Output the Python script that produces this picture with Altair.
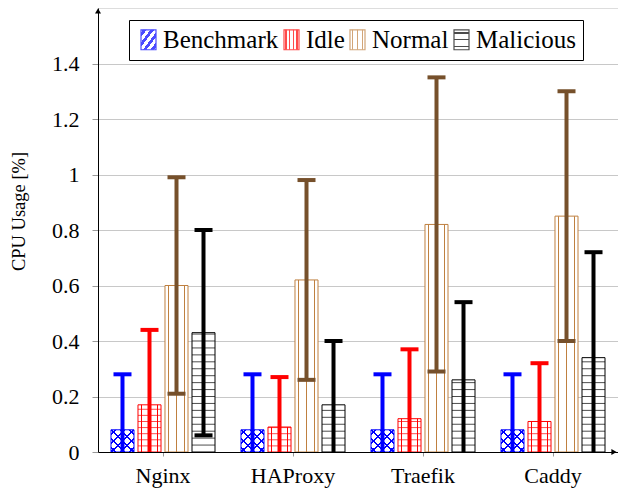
import altair as alt
import pandas as pd

# ---------------- data ----------------
categories = ["Nginx", "HAProxy", "Traefik", "Caddy"]
series = ["Benchmark", "Idle", "Normal", "Malicious"]

benchmark_mean = [0.08, 0.08, 0.08, 0.08]
benchmark_err = [0.20, 0.20, 0.20, 0.20]
idle_mean = [0.17, 0.09, 0.12, 0.11]
idle_err = [0.27, 0.18, 0.25, 0.21]
normal_mean = [0.60, 0.62, 0.82, 0.85]
normal_err = [0.39, 0.36, 0.53, 0.45]
malicious_mean = [0.43, 0.17, 0.26, 0.34]
malicious_err = [0.37, 0.23, 0.28, 0.38]

y_ticks = [0, 0.2, 0.4, 0.6, 0.8, 1, 1.2, 1.4]

rows = []
for s, means, errs in zip(
    series,
    [benchmark_mean, idle_mean, normal_mean, malicious_mean],
    [benchmark_err, idle_err, normal_err, malicious_err],
):
    for c, m, e in zip(categories, means, errs):
        rows.append({"category": c, "series": s, "mean": m, "err": e})
df = pd.DataFrame(rows)

# ---------------- styles ----------------
FONT = "Liberation Serif"
BLUE, RED, BROWN, BLACK = "#0000ff", "#ff0000", "#bf8040", "#000000"
ERR_BROWN = "#76502b"
stroke_colors = [BLUE, RED, BROWN, BLACK]
err_colors = [BLUE, RED, ERR_BROWN, BLACK]


def stop_list(n, frac, color, bg):
    stops = [(0, bg)]
    for i in range(n):
        c = (i + 0.5) / n
        a, b = c - frac / 2, c + frac / 2
        stops += [(a, bg), (a, color), (b, color), (b, bg)]
    stops.append((1, bg))
    return stops


def stripes(n, frac, color, bg, x1, y1, x2, y2):
    stops = [alt.GradientStop(offset=o, color=c) for o, c in stop_list(n, frac, color, bg)]
    return alt.LinearGradient(gradient="linear", stops=stops, x1=x1, y1=y1, x2=x2, y2=y2)


def stripes_expr(n, frac, color, bg, x1, y1, x2, y2):
    st = ",".join("{offset:%g,color:'%s'}" % (o, c) for o, c in stop_list(n, frac, color, bg))
    return {"expr": "{gradient:'linear',x1:%g,y1:%g,x2:%g,y2:%g,stops:[%s]}" % (x1, y1, x2, y2, st)}


TRANSP = "rgba(255,255,255,0)"

x_enc = alt.X(
    "category:N",
    sort=categories,
    scale=alt.Scale(domain=categories, paddingInner=0, paddingOuter=0),
    axis=alt.Axis(
        title=None, labelAngle=0, grid=False, domainColor="black", tickColor="#999999",
        tickSize=4, labelFont=FONT, labelFontSize=22, labelColor="black", labelPadding=9,
    ),
)
xo_enc = alt.XOffset(
    "series:N", sort=series,
    scale=alt.Scale(domain=series, paddingInner=0.148, paddingOuter=0.481),
)
y_axis = alt.Axis(
    values=y_ticks, format="~g", title="CPU Usage [%]", grid=True, gridColor="#c8c8c8",
    domainColor="black", tickColor="#999999", tickSize=6, labelPadding=13,
    labelFont=FONT, labelFontSize=22, labelColor="black",
    titleFont=FONT, titleFontSize=18.5, titleFontWeight="normal", titleColor="black",
    titleX=-80, titleY=203, titleBaseline="middle",
)
y_scale = alt.Scale(domain=[0, 1.6], nice=False, zero=True)

base = alt.Chart(df)


def bar_layer(name, fill, stroke):
    return base.transform_filter(alt.datum.series == name).mark_bar(
        fill=fill, stroke=stroke, strokeWidth=1, clip=True
    ).encode(x=x_enc, xOffset=xo_enc, y=alt.Y("mean:Q", scale=y_scale, axis=y_axis))


bench_bar = bar_layer("Benchmark", stripes(5, 0.05, BLUE, "white", 0, 0, 1, 1), BLUE)
bench_over = base.transform_filter(alt.datum.series == "Benchmark").mark_bar(
    fill=stripes(5, 0.05, BLUE, TRANSP, 1, 0, 0, 1), strokeWidth=0
).encode(x=x_enc, xOffset=xo_enc, y=alt.Y("mean:Q", scale=y_scale, axis=y_axis))
idle_bar = bar_layer("Idle", stripes(3, 0.05, RED, "white", 0, 0, 1, 0), RED)
normal_bar = bar_layer("Normal", stripes(3, 0.05, BROWN, "white", 0, 0, 1, 0), BROWN)
mal_bar = bar_layer("Malicious", "white", BLACK)


def hlines(name, step, color):
    return base.transform_filter(alt.datum.series == name).transform_calculate(
        hs=f"sequence({step}, datum.mean, {step})"
    ).transform_flatten(["hs"]).mark_tick(size=23, thickness=1, color=color).encode(
        x=x_enc, xOffset=xo_enc, y=alt.Y("hs:Q", scale=y_scale, axis=y_axis)
    )


idle_lines = hlines("Idle", 0.022, RED)
mal_lines = hlines("Malicious", 0.025, BLACK)

err_color = alt.Color("series:N", scale=alt.Scale(domain=series, range=err_colors), legend=None)
err_base = base.transform_calculate(
    lo="max(datum.mean - datum.err, 0)", hi="datum.mean + datum.err", rawlo="datum.mean - datum.err"
)
err_rule = err_base.mark_rule(strokeWidth=4).encode(
    x=x_enc, xOffset=xo_enc,
    y=alt.Y("lo:Q", scale=y_scale, axis=y_axis), y2="hi:Q", color=err_color,
)
cap_hi = err_base.mark_tick(size=18, thickness=4, opacity=1).encode(
    x=x_enc, xOffset=xo_enc, y=alt.Y("hi:Q", scale=y_scale, axis=y_axis), color=err_color,
)
cap_lo = err_base.transform_filter("datum.rawlo > 0").mark_tick(size=18, thickness=4, opacity=1).encode(
    x=x_enc, xOffset=xo_enc, y=alt.Y("lo:Q", scale=y_scale, axis=y_axis), color=err_color,
)

legend_fills = [
    stripes_expr(4, 0.12, BLUE, "white", 0, 0, 1, 1),
    stripes_expr(4, 0.09, RED, "white", 0, 0, 1, 0),
    stripes_expr(3, 0.09, BROWN, "white", 0, 0, 1, 0),
    stripes_expr(3, 0.07, BLACK, "white", 0, 0, 0, 1),
]

rect_path = "M-1,-1.33L1,-1.33L1,1.33L-1,1.33Z"
leg = alt.Legend(
    title=None, orient="none", legendX=31, legendY=12, direction="horizontal", columns=4,
    symbolType=rect_path, symbolSize=225, symbolStrokeWidth=1.2,
    labelFont=FONT, labelFontSize=25, labelColor="black", labelOffset=2, columnPadding=0,
    padding=7, strokeColor="black", fillColor="white", labelLimit=300,
)
legend_layer = base.transform_filter("false").mark_point(filled=True, shape=rect_path).encode(
    x=x_enc, y=alt.Y("mean:Q", scale=y_scale, axis=y_axis),
    fill=alt.Fill("series:N", sort=series, scale=alt.Scale(domain=series, range=legend_fills), legend=leg),
    stroke=alt.Stroke("series:N", sort=series, scale=alt.Scale(domain=series, range=stroke_colors), legend=leg),
)

arrow_data = alt.Data(values=[{"a": 1}])
arrow_up = alt.Chart(arrow_data).mark_point(shape="triangle-up", filled=True, size=36, color="black", opacity=1).encode(
    x=alt.value(0), y=alt.value(3)
)
arrow_right = alt.Chart(arrow_data).mark_point(shape="triangle-right", filled=True, size=36, color="black", opacity=1).encode(
    x=alt.value(516), y=alt.value(444)
)

chart = alt.layer(
    bench_bar, bench_over, idle_bar, normal_bar, mal_bar,
    idle_lines, mal_lines, err_rule, cap_hi, cap_lo, legend_layer, arrow_up, arrow_right,
).resolve_scale(color="independent").properties(
    width=520, height=444,
    autosize=alt.AutoSizeParams(type="none"),
    padding={"left": 98, "top": 8, "right": 0, "bottom": 39},
).configure_view(stroke=None).configure(background="white", font=FONT).configure_legend(
    labelFont=FONT, labelFontSize=25, labelColor="black"
)

chart.save("out.html", embed_options={"renderer": "svg", "actions": False})
